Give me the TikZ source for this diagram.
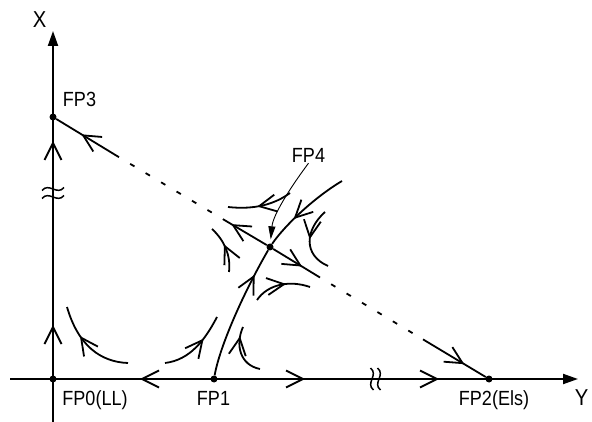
\documentclass[tikz,border=0pt]{standalone}
\usepackage{fontspec}
\setmainfont{Liberation Sans}[FakeStretch=0.88]
\usetikzlibrary{arrows.meta,decorations.markings,calc}
\begin{document}
\begin{tikzpicture}[x=1pt,y=-1pt,
  flow/.style={line width=1.8pt},
  axis/.style={line width=2pt},
  chevat/.style={postaction={decorate,decoration={markings,
      mark=at position #1 with {\draw[line width=1.8pt,solid] (-17pt,8.5pt) -- (0pt,0pt) -- (-17pt,-8.5pt);}}}},
  dotline/.style={line width=1.8pt,dash pattern=on 5pt off 13pt,dash phase=5pt},
  dot/.style={circle,fill,inner sep=0pt,minimum size=7pt},
  lbl/.style={font=\fontsize{20.5}{24}\selectfont,anchor=base,inner sep=0pt},
  axlbl/.style={font=\fontsize{23}{27}\selectfont,anchor=base,inner sep=0pt},
  thinarrow/.style={line width=0.9pt,-{Triangle[length=13pt,width=7pt]},shorten >=4pt},
  pics/chev/.style={code={\draw[line width=1.8pt] (-17pt,8.5pt) -- (0pt,0pt) -- (-17pt,-8.5pt);}},
  pics/tld/.style={code={\draw[line width=1.5pt] (-11pt,-1.5pt) .. controls (-4pt,7pt) and (4pt,-7pt) .. (11pt,1.5pt);}}
]
\useasboundingbox (0,0) rectangle (592,422);

% axes
\coordinate (vb) at (53,422);
\coordinate (vt) at (53,31);
\coordinate (hl) at (10,379);
\coordinate (hr) at (578,379);
\draw[axis,-{Triangle[length=15pt,width=10pt]}] (vb) -- (vt);
\draw[axis,-{Triangle[length=15pt,width=10pt]}] (hl) -- (hr);

% axis flow chevrons
\pic[rotate=90] at (53,327) {chev};
\pic[rotate=90] at (53,143) {chev};
\pic[rotate=180] at (142,379) {chev};
\pic at (303,379) {chev};
\pic at (437,379) {chev};

% break marks
\pic at (53,189) {tld};
\pic at (53,197) {tld};
\pic[rotate=90] at (372,379) {tld};
\pic[rotate=90] at (379,379) {tld};

% fixed points
\node[dot] (fp0) at (53,379) {};
\node[dot] (fp1) at (214,379) {};
\node[dot] (fp2) at (489,379) {};
\node[dot] (fp3) at (53,117) {};
\node[dot] (fp4) at (270,247) {};

% labels
\node[axlbl] (lx) at (39.5,28) {X};
\node[axlbl] (ly) at (581.5,405) {Y};
\node[lbl] (l3) at (79.5,107) {FP3};
\node[lbl] (l4) at (308.5,163) {FP4};
\node[lbl] (l0) at (95,405) {FP0(LL)};
\node[lbl] (l1) at (213.5,405) {FP1};
\node[lbl] (l2) at (494,405) {FP2(Els)};

% FP3 -- FP2 line
\coordinate (d1) at (119,157.2);
\coordinate (d2) at (223,219.2);
\coordinate (d3) at (320,277.5);
\coordinate (d4) at (423,339.4);
\draw[flow,chevat=0.57] (d1) -- (fp3);
\draw[dotline] (d1) -- (d2);
\draw[flow,chevat=0.77] (fp4) -- (d2);
\draw[flow,chevat=0.58] (fp4) -- (d3);
\draw[dotline] (d3) -- (d4);
\draw[flow,chevat=0.63] (d4) -- (fp2);

% separatrices through FP4
\coordinate (s2) at (342,181);
\draw[flow,chevat=0.78] (fp1) .. controls (220,345) and (245,290) .. (fp4);
\draw[flow,chevat=0.63] (s2) .. controls (315,197) and (285,225) .. (fp4);

% FP4 label arrow
\draw[thinarrow] (l4.south) .. controls (290,188) and (273,215) .. (fp4);

% flow lines near FP4
\draw[flow,chevat=0.52] (290,193) .. controls (275,204) and (255,210) .. (228,207);
\draw[flow,chevat=0.55] (229,272) .. controls (231,255) and (224,240) .. (212,229);
\draw[flow,chevat=0.45] (325,212) .. controls (305,230) and (303,255) .. (328,266);
\draw[flow,chevat=0.55] (257,300) .. controls (268,284) and (290,280) .. (310,287);

% flow lines near FP0 / FP1
\draw[flow,chevat=0.62] (128,363) .. controls (100,362) and (78,345) .. (67,307);
\draw[flow,chevat=0.62] (165,363) .. controls (190,360) and (205,340) .. (217,317);
\draw[flow,chevat=0.78] (260,369) .. controls (240,365) and (235,345) .. (243,327);
\end{tikzpicture}
\end{document}
